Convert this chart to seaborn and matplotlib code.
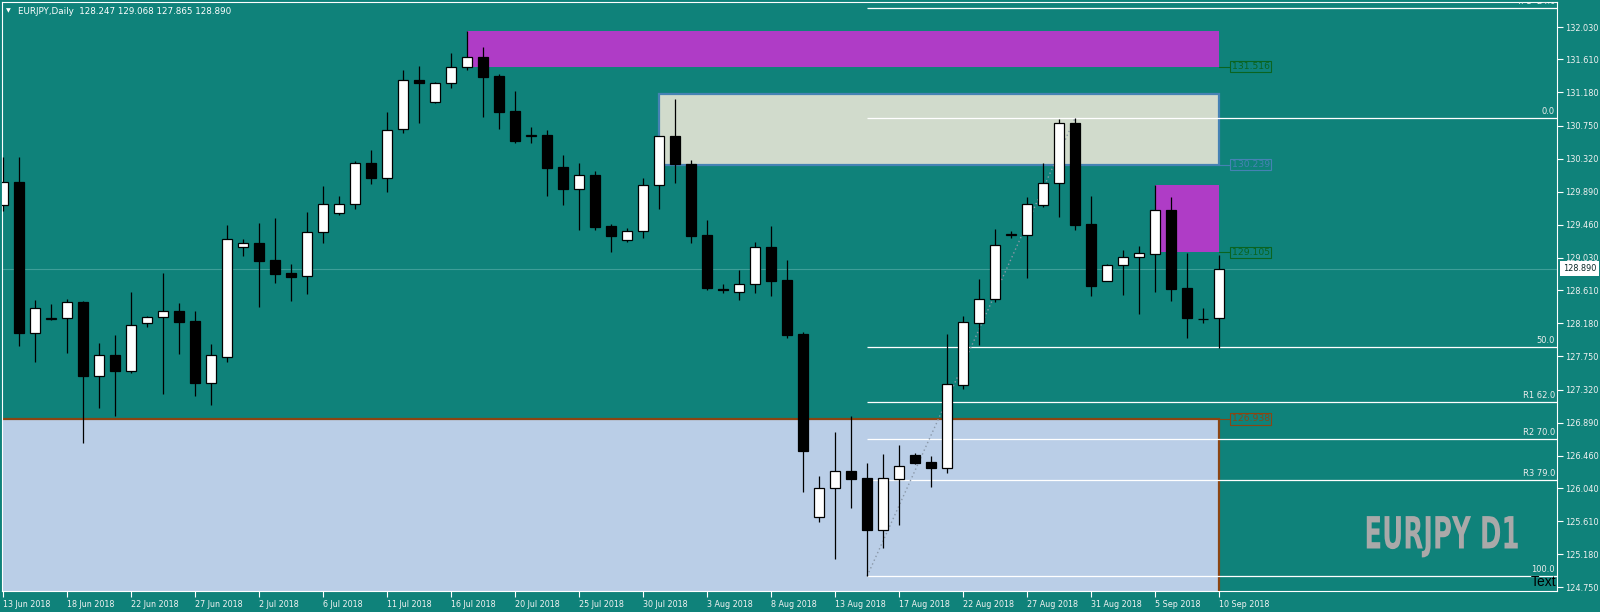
import matplotlib
matplotlib.use("Agg")
import matplotlib.pyplot as plt
import matplotlib.transforms as mtransforms
from matplotlib.patches import Rectangle
from matplotlib.patheffects import AbstractPathEffect
import numpy as np
import pandas as pd
import seaborn as sns

# ---------------- data ----------------
symbol = "EURJPY"
timeframe = "Daily"

opens = [129.713, 130.012, 128.058, 128.240, 128.245, 128.453, 127.499, 127.764, 127.564, 128.180,
         128.258, 128.336, 128.206, 127.410, 127.746, 129.176, 129.220, 128.999, 128.830, 128.791,
         129.363, 129.609, 129.727, 130.259, 130.072, 130.701, 131.338, 131.052, 131.299, 131.507,
         131.636, 131.390, 130.935, 130.620, 130.623, 130.207, 129.929, 130.103, 129.440, 129.259,
         129.376, 129.973, 130.610, 130.250, 129.327, 128.630, 128.591, 128.687, 129.168, 128.743,
         128.041, 125.659, 126.036, 126.257, 126.166, 125.490, 126.161, 126.469, 126.378, 126.304,
         127.383, 128.188, 128.492, 129.325, 129.332, 129.722, 130.000, 130.779, 129.466, 128.734,
         128.934, 129.038, 129.085, 129.649, 128.635, 128.240, 128.247]
highs = [130.345, 130.345, 128.483, 128.431, 128.496, 128.474, 127.924, 128.028, 128.587, 128.271,
         128.834, 128.444, 128.336, 127.911, 129.457, 129.276, 129.483, 129.548, 128.947, 129.626,
         129.964, 129.834, 130.289, 130.432, 130.926, 131.471, 131.523, 131.316, 131.692, 131.978,
         131.770, 131.419, 131.199, 130.731, 130.692, 130.367, 130.263, 130.159, 129.470, 129.415,
         130.068, 130.620, 131.095, 130.302, 129.522, 128.691, 128.873, 129.237, 129.444, 128.997,
         128.063, 126.196, 126.768, 126.976, 126.365, 126.482, 126.599, 126.495, 126.456, 128.041,
         128.275, 128.756, 129.405, 129.380, 129.821, 130.263, 130.835, 130.848, 129.834, 128.951,
         129.133, 129.185, 129.977, 129.821, 129.090, 128.375, 129.068]
lows = [129.643, 127.889, 127.681, 128.223, 127.798, 126.629, 127.083, 126.979, 127.538, 128.128,
        127.265, 127.785, 127.240, 127.123, 127.681, 129.059, 128.396, 128.708, 128.474, 128.565,
        129.228, 129.587, 129.669, 129.994, 129.890, 130.657, 130.787, 131.047, 131.241, 131.475,
        130.865, 130.709, 130.527, 130.523, 129.834, 129.717, 129.393, 129.396, 129.107, 129.240,
        129.289, 129.665, 130.003, 129.228, 128.613, 128.578, 128.483, 128.578, 128.535, 127.993,
        125.992, 125.602, 125.121, 125.784, 124.897, 125.260, 125.560, 126.352, 126.053, 126.239,
        127.330, 127.902, 128.461, 129.292, 128.773, 129.695, 129.565, 129.396, 128.539, 128.734,
        128.548, 128.301, 128.587, 128.474, 127.993, 128.188, 127.865]
closes = [130.012, 128.058, 128.375, 128.245, 128.453, 127.499, 127.764, 127.564, 128.154, 128.258,
          128.336, 128.201, 127.408, 127.764, 129.272, 129.220, 128.994, 128.825, 128.786, 129.363,
          129.727, 129.727, 130.259, 130.072, 130.697, 131.338, 131.299, 131.299, 131.507, 131.636,
          131.385, 130.930, 130.553, 130.623, 130.202, 129.929, 130.103, 129.435, 129.318, 129.376,
          129.973, 130.610, 130.250, 129.318, 128.643, 128.610, 128.687, 129.168, 128.734, 128.032,
          126.525, 126.036, 126.257, 126.161, 125.498, 126.166, 126.322, 126.369, 126.304, 127.388,
          128.193, 128.492, 129.194, 129.337, 129.727, 130.000, 130.779, 129.461, 128.669, 128.934,
          129.038, 129.090, 129.649, 128.630, 128.253, 128.232, 128.890]

date_labels = ["13 Jun 2018", "18 Jun 2018", "22 Jun 2018", "27 Jun 2018", "2 Jul 2018",
               "6 Jul 2018", "11 Jul 2018", "16 Jul 2018", "20 Jul 2018", "25 Jul 2018",
               "30 Jul 2018", "3 Aug 2018", "8 Aug 2018", "13 Aug 2018", "17 Aug 2018",
               "22 Aug 2018", "27 Aug 2018", "31 Aug 2018", "5 Sep 2018", "10 Sep 2018"]
date_every = 4

price_ticks = [132.030, 131.610, 131.180, 130.750, 130.320, 129.890, 129.460, 129.030, 128.610,
               128.180, 127.750, 127.320, 126.890, 126.460, 126.040, 125.610, 125.180, 124.750]

# supply / demand zones: start bar, low price, high price
zone_start = [29, 41, 72, -5]
zone_low = [131.516, 130.239, 129.105, 123.0]
zone_high = [131.978, 131.155, 129.977, 126.938]
zone_labels = ["131.516", "130.239", "129.105", "126.938"]
zone_end = 76

# fibonacci
fib_low_bar = 54
fib_high_bar = 67
fib_levels = [-24.0, 0.0, 50.0, 62.0, 70.0, 79.0, 100.0]
fib_names = ["TP1 -24.0", "0.0", "50.0", "R1 62.0", "R2 70.0", "R3 79.0", "100.0"]

watermark = "EURJPY D1"


class Squeeze(AbstractPathEffect):
    """Narrow the glyphs horizontally toward an anchor x (display pixels)."""

    def __init__(self, sx, cx):
        super().__init__()
        self.sx = sx
        self.cx = cx

    def draw_path(self, renderer, gc, tpath, affine, rgbFace=None):
        aff = affine + mtransforms.Affine2D().translate(-self.cx, 0).scale(self.sx, 1).translate(self.cx, 0)
        renderer.draw_path(gc, tpath, aff, rgbFace)


# ---------------- style ----------------
BG = "#0F827A"
MAG = "#AF3CC6"
sns.set_theme(style="dark")
plt.rcParams["font.family"] = ["DejaVu Sans"]

W, H, DPI = 1600, 612, 100
fig = plt.figure(figsize=(W / DPI, H / DPI), dpi=DPI, facecolor=BG)
L, R, T, B = 2, 1557, 2, 591
ax = fig.add_axes([L / W, 1 - B / H, (R - L) / W, (B - T) / H])
ax.set_facecolor(BG)
ax.grid(False)

df = pd.DataFrame({"open": opens, "high": highs, "low": lows, "close": closes})
df["x"] = np.arange(len(df))
df["bull"] = df["close"] >= df["open"]

# zones
zone_styles = [
    dict(fc=MAG, ec="none", lw=0, lab="#0A6420"),
    dict(fc="#D1DBCC", ec="#4682B4", lw=1.6, lab="#4682B4"),
    dict(fc=MAG, ec="none", lw=0, lab="#0A6420"),
    dict(fc="#BACEE7", ec="#8B4513", lw=1.6, lab="#8B4513"),
]
for s, lo, hi, lab, st in zip(zone_start, zone_low, zone_high, zone_labels, zone_styles):
    ax.add_patch(Rectangle((s, lo), zone_end - s, hi - lo, facecolor=st["fc"],
                           edgecolor=st["ec"], linewidth=st["lw"], zorder=1))
    edge = lo if lab != "126.938" else hi
    ax.plot([zone_end, zone_end + 0.66], [edge, edge], color=st["lab"], lw=0.8, zorder=2)
    ax.text(zone_end + 0.78, edge, lab, color=st["lab"], fontsize=6.7, ha="left", va="center",
            zorder=8, bbox=dict(boxstyle="square,pad=0.12", fc="none", ec=st["lab"], lw=0.8))

# current price line
last_close = closes[-1]
ax.axhline(last_close, color="#3E9E98", lw=0.8, zorder=2)

# fibonacci
f_hi = df["high"][fib_high_bar]
f_lo = df["low"][fib_low_bar]
fib_prices = [f_hi - lv / 100.0 * (f_hi - f_lo) for lv in fib_levels]
ax.hlines(fib_prices, fib_low_bar, 500, color="white", lw=0.9, zorder=3)
ax.plot([fib_low_bar, fib_high_bar], [f_lo, f_hi], color="#8A98A8", lw=1.0,
        linestyle=(0, (1, 2)), zorder=4)
lab_tr = mtransforms.blended_transform_factory(ax.transAxes, ax.transData)
up = mtransforms.ScaledTranslation(0, 1.5 / 72, fig.dpi_scale_trans)
for p, name in zip(fib_prices, fib_names):
    ax.text(1 - 2 / (R - L), p, name, transform=lab_tr + up, ha="right", va="bottom",
            fontsize=6, color="#EDEDED", zorder=7, clip_on=True)

# candles
ax.vlines(df["x"], df["low"], df["high"], color="black", lw=0.9, zorder=5)
ax.bar(df["x"], (df["close"] - df["open"]).abs(), bottom=df[["open", "close"]].min(axis=1),
       width=0.64, color=np.where(df["bull"], "white", "black"), edgecolor="black",
       linewidth=0.9, zorder=6)

# axes limits / ticks
ax.set_xlim(-0.081, 97.125)
ax.set_ylim(124.702, 132.355)
ax.yaxis.tick_right()
ax.set_yticks(price_ticks)
ax.set_yticklabels([f"{v:.3f}" for v in price_ticks])
ax.set_xticks(np.arange(0, len(df), date_every))
ax.set_xticklabels(date_labels)
for t in ax.get_xticklabels():
    t.set_ha("left")
ax.tick_params(axis="y", which="both", right=True, left=False, direction="out", length=4,
               width=0.8, color="white", pad=2, labelsize=5.9, labelcolor="#F2F2F2")
ax.tick_params(axis="x", which="both", bottom=True, direction="out", length=4, width=0.8,
               color="white", pad=2.5, labelsize=5.8, labelcolor="#F2F2F2")
for sp in ax.spines.values():
    sp.set_color("white")
    sp.set_linewidth(0.8)
    sp.set_visible(True)

# bid label on price axis
ax.text(1 + 6 / (R - L), last_close, f"{last_close:.3f}", transform=lab_tr, ha="left",
        va="center", fontsize=5.9, color="#0B2A28", clip_on=False, zorder=10,
        bbox=dict(boxstyle="square,pad=0.35", fc="white", ec="none"))

# header
fig.text(6 / W, 1 - 11 / H, "\u25BC", color="white", fontsize=4.5, va="center", ha="left")
fig.text(18 / W, 1 - 11 / H,
         f"{symbol},{timeframe}  {opens[-1]:.3f} {highs[-1]:.3f} {lows[-1]:.3f} {closes[-1]:.3f}",
         color="white", fontsize=6.3, va="center", ha="left")

# watermark (condensed heavy look), squeezed toward its right edge
wm_right = 1520
fig.text(wm_right / W, 1 - 536 / H, watermark, ha="right", va="center", color="#A9A9A9",
         fontsize=32, fontweight="bold", family=["DejaVu Sans"], zorder=9,
         path_effects=[Squeeze(0.585, wm_right)])

# "Text" object
ax.text(1 - 1 / (R - L), 1.5 / (B - T), "Text", transform=ax.transAxes, ha="right", va="bottom",
        color="black", fontsize=10, family=["Liberation Sans", "DejaVu Sans"], zorder=9)

fig.savefig("out.png", dpi=DPI, facecolor=BG)
